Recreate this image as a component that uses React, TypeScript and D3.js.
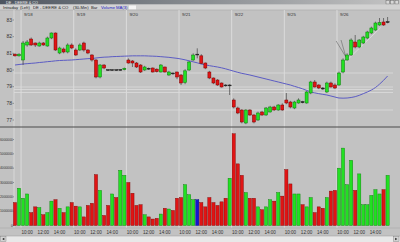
import React from "react";
import * as d3 from "d3";

const days = ["9/18", "9/19", "9/20", "9/21", "9/22", "9/25", "9/26"];
const dayStart = [2, 15, 28, 41, 54, 67, 80];
const timeLabels = ["10:00", "12:00", "14:00"];
const timeOffsets = [1, 5, 9];
const priceTicks = [77, 78, 79, 80, 81, 82, 83];
const volTicks = [0, 1e6, 2e6, 3e6, 4e6, 5e6, 6e6];

const opens = [80.95, 80.85, 80.6, 81.5, 81.86, 81.62, 81.44, 81.62, 81.44, 81.92, 82.22, 81.02, 81.26, 81.08, 81.5,
  81.2, 81.2, 81.62, 81.2, 80.9, 80.6, 79.58, 80.3, 80.02, 79.98, 80.02, 79.98, 80.02,
  80.6, 80.54, 80.42, 80.3, 80.0, 80.1, 80.12, 80.05, 79.88, 80.18, 79.7, 79.82, 79.88,
  79.7, 79.25, 80.0, 80.6, 80.95, 80.85, 80.42, 79.88, 79.52, 79.4, 79.22, 79.1, 79.05,
  78.2, 77.72, 77.6, 76.82, 77.6, 77.3, 77.0, 77.48, 77.3, 77.48, 77.78, 77.6, 77.9,
  78.2, 78.08, 77.72, 78.02, 78.1, 78.02, 78.62, 79.28, 79.1, 78.92, 78.68, 79.22, 79.1,
  79.1, 79.88, 80.6, 80.9, 81.68, 81.38, 81.62, 81.92, 82.22, 82.4, 82.7, 82.88, 82.85];
const highs = [81.0, 81.0, 81.74, 81.8, 81.95, 81.65, 81.7, 81.68, 82.0, 82.25, 82.25, 81.4, 81.35, 81.6, 81.6,
  81.3, 81.6, 81.7, 81.25, 80.95, 80.65, 80.35, 80.35, 80.05, 80.05, 80.04, 80.06, 80.15,
  80.7, 80.6, 80.48, 80.35, 80.25, 80.15, 80.15, 80.1, 80.35, 80.2, 79.95, 79.85, 79.9,
  79.75, 80.05, 80.55, 81.0, 81.3, 80.95, 80.45, 79.95, 79.55, 79.45, 79.25, 79.15, 79.15,
  78.3, 77.8, 77.65, 77.65, 77.65, 77.35, 77.5, 77.55, 77.78, 77.85, 77.85, 77.95, 78.0,
  78.62, 78.15, 78.15, 78.3, 78.15, 78.75, 79.35, 79.4, 79.15, 78.98, 79.3, 79.3, 79.2,
  79.9, 80.7, 81.0, 81.9, 82.1, 81.85, 82.05, 82.35, 82.6, 82.9, 83.12, 83.12, 83.18];
const lows = [80.8, 80.8, 80.3, 81.4, 81.45, 81.38, 81.4, 81.45, 81.4, 81.85, 81.15, 80.95, 81.0, 81.0, 81.25,
  80.85, 81.15, 81.1, 80.95, 80.5, 79.5, 79.5, 80.05, 79.95, 79.95, 79.95, 79.95, 79.98,
  80.38, 80.18, 80.12, 79.82, 79.95, 80.0, 79.85, 79.85, 79.85, 79.85, 79.65, 79.7, 79.45,
  79.1, 79.15, 79.95, 80.55, 80.7, 80.35, 80.05, 79.45, 79.15, 79.05, 78.95, 79.0, 78.5,
  77.7, 77.35, 76.8, 76.75, 77.25, 76.8, 76.95, 77.25, 77.25, 77.45, 77.55, 77.55, 77.55,
  77.95, 77.7, 77.65, 77.98, 78.0, 77.98, 78.55, 78.95, 78.85, 78.8, 78.62, 78.95, 78.85,
  79.05, 79.8, 80.55, 80.85, 81.3, 81.3, 81.55, 81.85, 82.15, 82.35, 82.65, 82.65, 82.8];
const closes = [80.85, 80.95, 81.62, 81.68, 81.5, 81.5, 81.62, 81.5, 81.92, 82.22, 81.2, 81.32, 81.08, 81.5, 81.32,
  80.9, 81.5, 81.2, 81.02, 80.6, 79.58, 80.3, 80.12, 79.98, 80.02, 79.98, 80.03, 80.1,
  80.42, 80.42, 80.18, 79.88, 80.18, 80.06, 79.88, 79.9, 80.3, 79.88, 79.88, 79.78, 79.58,
  79.22, 79.95, 80.48, 80.9, 80.95, 80.4, 80.12, 79.52, 79.22, 79.1, 78.98, 79.05, 79.1,
  77.78, 77.42, 76.88, 77.6, 77.3, 76.88, 77.42, 77.3, 77.72, 77.78, 77.6, 77.9, 77.6,
  78.02, 77.78, 78.08, 78.2, 78.04, 78.68, 79.28, 78.98, 78.92, 78.86, 79.22, 78.98, 78.92,
  79.82, 80.6, 80.9, 81.8, 81.38, 81.8, 81.98, 82.28, 82.52, 82.82, 82.85, 82.7, 82.9];
const volumes = [1.6, 2.6, 1.9, 2.2, 0.9, 1.3, 1.25, 0.75, 0.9, 1.7, 1.8, 1.2, 0.9, 1.3, 1.6,
  1.35, 1.3, 0.6, 1.4, 1.55, 3.55, 2.45, 0.7, 1.4, 2.2, 1.95, 3.85, 3.5,
  3.0, 2.25, 1.4, 1.45, 0.75, 0.6, 0.45, 0.5, 0.8, 1.2, 1.15, 1.05, 1.9,
  1.95, 2.85, 2.15, 1.8, 1.8, 1.6, 1.3, 1.95, 1.6, 1.4, 1.65, 1.9, 3.3,
  6.4, 4.3, 3.5, 2.3, 1.9, 1.9, 1.3, 1.1, 1.3, 1.8, 1.7, 2.3, 2.05,
  3.9, 2.9, 2.2, 2.2, 1.45, 1.3, 1.95, 0.9, 1.3, 1.2, 1.95, 2.4, 2.45,
  4.0, 5.4, 2.85, 4.55, 2.45, 3.6, 1.45, 1.45, 2.1, 2.5, 2.2, 2.5, 3.5].map((v) => v * 1e6);
const maValues = [80.3, 80.33, 80.36, 80.38, 80.4, 80.42, 80.45, 80.47, 80.5, 80.52, 80.55, 80.57, 80.58, 80.59, 80.6,
  80.62, 80.64, 80.66, 80.68, 80.69, 80.72, 80.75, 80.77, 80.78, 80.8, 80.81, 80.82, 80.83,
  80.84, 80.85, 80.85, 80.85, 80.85, 80.84, 80.83, 80.82, 80.8, 80.78, 80.76, 80.73, 80.7,
  80.66, 80.61, 80.55, 80.49, 80.43, 80.36, 80.31, 80.26, 80.22, 80.18, 80.13, 80.07, 80.0,
  79.93, 79.86, 79.8, 79.75, 79.7, 79.64, 79.58, 79.52, 79.46, 79.4, 79.34, 79.28, 79.22,
  79.16, 79.1, 79.02, 78.95, 78.87, 78.78, 78.68, 78.63, 78.58, 78.54, 78.5, 78.44, 78.38,
  78.32, 78.31, 78.32, 78.35, 78.4, 78.48, 78.58, 78.68, 78.8, 78.95, 79.15, 79.38, 79.64];
const levelLines = [79.82, 78.98, 78.83, 78.65, 77.6];
const arrowLines = [
  [79.3, 81.74, 81.7, 80.78],
  [80.5, 81.8, 81.7, 80.78],
];
const trendLines = [[81.2, 80.4, 90.3, 82.55]];
const toolbarItems = ["Intraday", "(Left)", "DE - DEERE & CO", "(30-Min)", "Bar", "Volume", "MA(3)"];

const FONT = "'Liberation Sans', Arial, sans-serif";

export default function App() {
  const n = closes.length;
  const x = d3.scaleLinear().domain([0, n - 1]).range([15, 15 + (n - 1) * 4.05]);
  const yP = d3.scaleLinear().domain([77, 83]).range([120, 20]);
  const yV = d3.scaleLinear().domain([0, 6e6]).range([225.5, 139.5]);
  const maLine = d3
    .line<number>()
    .x((_, i) => x(i))
    .y((d) => yP(d))
    .curve(d3.curveMonotoneX);

  const colorOf = (i: number) =>
    closes[i] > opens[i] ? "up" : closes[i] < opens[i] ? "down" : "flat";
  const fills: Record<string, string> = { up: "#22e022", down: "#e01414", flat: "#1414d0" };
  const strokes: Record<string, string> = { up: "#0a7a0a", down: "#7a0000", flat: "#000080" };

  const left = 14;
  const right = 393;
  const dayX = dayStart.map((d) => x(d - 0.5));
  const toolbarX = [3, 20, 33, 73, 91, 101, 116];

  return (
    <div style={{ position: "fixed", left: 0, top: 0, width: 400, height: 242 }}>
      <svg width={400} height={242} style={{ display: "block" }}>
        <defs>
          <linearGradient id="tb" x1="0" x2="1" y1="0" y2="0">
            <stop offset="0" stopColor="#4e5660" />
            <stop offset="1" stopColor="#c4c4c4" />
          </linearGradient>
        </defs>
        <rect x={0} y={0} width={400} height={242} fill="#c2c2c2" />
        {/* title bar */}
        <rect x={0} y={0} width={400} height={4.5} fill="url(#tb)" />
        <text x={6} y={3.8} fontSize={3.8} fill="#f0f0f0" fontFamily={FONT}>DE - DEERE &amp; CO</text>
        <rect x={386} y={0.5} width={3.5} height={3.5} fill="#d8d8d8" stroke="#555" strokeWidth={0.4} />
        <rect x={390.5} y={0.5} width={3.5} height={3.5} fill="#d8d8d8" stroke="#555" strokeWidth={0.4} />
        <rect x={395} y={0.5} width={3.5} height={3.5} fill="#d8d8d8" stroke="#555" strokeWidth={0.4} />
        {/* toolbar */}
        <rect x={0} y={4.5} width={400} height={5.5} fill="#d2d2d2" />
        <g fontFamily={FONT} fontSize={4.2}>
          {toolbarItems.map((t, i) => (
            <text key={"tb" + i} x={toolbarX[i]} y={8.7} fill={i >= 5 ? "#2020c0" : "#222"}>
              {t}
            </text>
          ))}
        </g>
        <rect x={129} y={5.5} width={7} height={4} fill="#f4f4f4" />
        <line x1={0} x2={400} y1={10} y2={10} stroke="#a8a8a8" strokeWidth={0.6} />

        {/* left border line */}
        <line x1={left} x2={left} y1={10} y2={228} stroke="#dedede" strokeWidth={0.8} />

        {/* day separators */}
        {dayX.map((dx, i) => (
          <line key={"d" + i} x1={dx} x2={dx} y1={10} y2={228} stroke="#e2e2e2" strokeWidth={0.8} />
        ))}
        {dayX.map((dx, i) => (
          <text key={"dl" + i} x={dx + 3} y={15.5} fontSize={4.4} fill="#333" fontFamily={FONT}>
            {days[i]}
          </text>
        ))}

        {/* level lines */}
        {levelLines.map((p, i) => (
          <line key={"lv" + i} x1={left} x2={right} y1={yP(p)} y2={yP(p)} stroke="#dcdcdc" strokeWidth={0.8} />
        ))}

        {/* price axis labels */}
        {priceTicks.map((p) => (
          <g key={"pt" + p}>
            <text x={12} y={yP(p) + 1.8} fontSize={5} textAnchor="end" fill="#333" fontFamily={FONT}>
              {p}
            </text>
            <line x1={12.5} x2={14} y1={yP(p)} y2={yP(p)} stroke="#555" strokeWidth={0.5} />
          </g>
        ))}

        {/* MA line */}
        <path d={maLine(maValues) || ""} fill="none" stroke="#5c5cc4" strokeWidth={1} />

        {/* annotations */}
        {trendLines.map((t, i) => (
          <line key={"tr" + i} x1={x(t[0])} y1={yP(t[1])} x2={x(t[2])} y2={yP(t[3])} stroke="#e4e4e4" strokeWidth={0.7} />
        ))}
        {arrowLines.map((t, i) => (
          <line key={"ar" + i} x1={x(t[0])} y1={yP(t[1])} x2={x(t[2])} y2={yP(t[3])} stroke="#555" strokeWidth={0.5} />
        ))}

        {/* candles */}
        {closes.map((c, i) => {
          const o = opens[i];
          const cx = x(i);
          const k = colorOf(i);
          const top = yP(Math.max(o, c));
          const bot = yP(Math.min(o, c));
          const h = Math.max(bot - top, 0.8);
          return (
            <g key={"c" + i}>
              <line x1={cx} x2={cx} y1={yP(highs[i])} y2={yP(lows[i])} stroke="#303030" strokeWidth={0.6} />
              <rect
                x={cx - 1.5}
                y={top}
                width={3}
                height={h}
                fill={h < 1.2 ? "#222" : fills[k]}
                stroke={h < 1.2 ? "#222" : strokes[k]}
                strokeWidth={0.5}
              />
            </g>
          );
        })}

        {/* separator */}
        <line x1={0} x2={400} y1={127} y2={127} stroke="#4a4a4a" strokeWidth={1.2} />

        {/* volume labels */}
        {volTicks.map((v) => (
          <g key={"vt" + v}>
            <text x={12.8} y={yV(v) + 1.3} fontSize={3.3} textAnchor="end" fill="#333" fontFamily={FONT}>
              {v}
            </text>
            <line x1={13} x2={14} y1={yV(v)} y2={yV(v)} stroke="#555" strokeWidth={0.5} />
          </g>
        ))}

        {/* volume bars */}
        {volumes.map((v, i) => {
          const k = colorOf(i);
          return (
            <rect
              key={"v" + i}
              x={x(i) - 1.6}
              y={yV(v)}
              width={3.2}
              height={yV(0) - yV(v)}
              fill={fills[k]}
              stroke={strokes[k]}
              strokeWidth={0.4}
            />
          );
        })}

        {/* time axis */}
        <line x1={0} x2={400} y1={228} y2={228} stroke="#a0a0a0" strokeWidth={0.5} />
        {dayStart.map((d, di) =>
          timeOffsets.map((o, ti) => (
            <text
              key={"t" + di + "_" + ti}
              x={x(d + o)}
              y={234}
              fontSize={4.6}
              textAnchor="middle"
              fill="#333"
              fontFamily={FONT}
            >
              {timeLabels[ti]}
            </text>
          ))
        )}

        {/* scrollbar */}
        <rect x={0} y={236} width={400} height={6} fill="#e8e8e8" />
        <line x1={0} x2={400} y1={236} y2={236} stroke="#9a9a9a" strokeWidth={0.5} />
        <rect x={0.5} y={236.5} width={5.5} height={5} fill="#d4d4d4" stroke="#777" strokeWidth={0.4} />
        <path d="M4.3,237.8 L2.2,239 L4.3,240.2 Z" fill="#222" />
        <rect x={393.5} y={236.5} width={5.5} height={5} fill="#d4d4d4" stroke="#777" strokeWidth={0.4} />
        <path d="M395.2,237.8 L397.3,239 L395.2,240.2 Z" fill="#222" />
      </svg>
    </div>
  );
}
